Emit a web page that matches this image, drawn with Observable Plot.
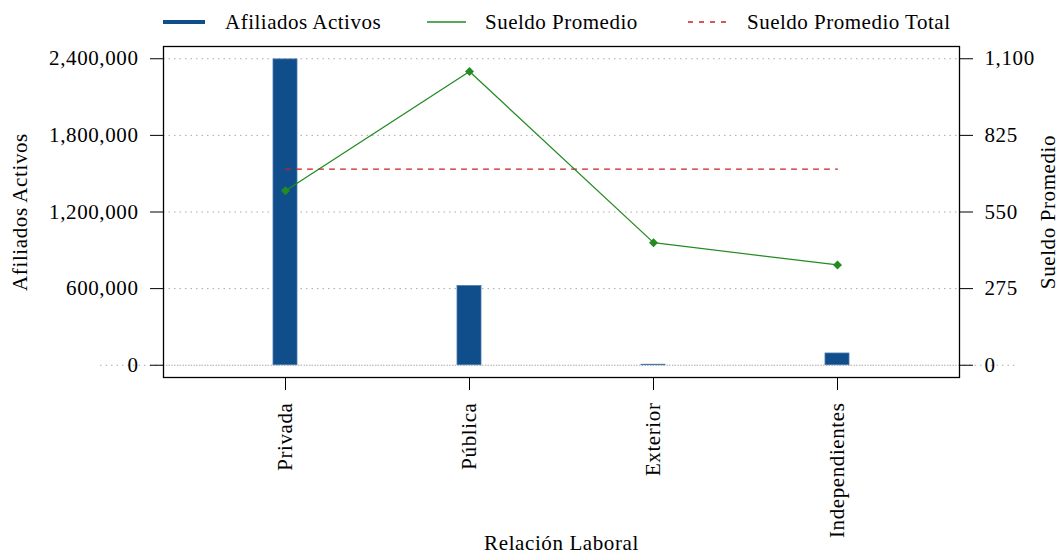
<!DOCTYPE html>
<html>
<head>
<meta charset="utf-8">
<script src="https://cdn.jsdelivr.net/npm/d3@7"></script>
<script src="https://cdn.jsdelivr.net/npm/@observablehq/plot@0.6"></script>
<style>
  body { margin: 0; background: white; font-family: "Liberation Serif", serif; }
  #legend { position: relative; width: 1061px; height: 40px; font-size: 21px; letter-spacing: 0.5px; color: #000; }
  #legend svg.sw { position: absolute; top: 17px; }
  #legend .tx { position: absolute; top: 9px; line-height: 26px; white-space: nowrap; font-family: "Liberation Serif", serif; }
</style>
</head>
<body>
<div id="legend"></div>
<div id="chart"></div>
<script>
// Data
const categorias = ["Privada", "Pública", "Exterior", "Independientes"];
const afiliados = [2395000, 620000, 4000, 92000];
const sueldo = [626, 1054, 440, 360];
const sueldoTotal = 704;
const ticksIzq = [0, 600000, 1200000, 1800000, 2400000];
const ticksDer = [0, 275, 550, 825, 1100];
const seriesNombres = ["Afiliados Activos", "Sueldo Promedio", "Sueldo Promedio Total"];

const colBar = "#104E8B", colLine = "#228B22", colTot = "#cc1f1f";
const k = ticksIzq[ticksIzq.length - 1] / ticksDer[ticksDer.length - 1];

const tabla = categorias.map((c, i) => ({cat: c, afil: afiliados[i], sueldo: sueldo[i], sueldoEsc: sueldo[i] * k, total: sueldoTotal * k}));
const fmt = d3.format(",");

// Legend
const legend = document.getElementById("legend");
const legItems = [
  {x: 163, w: 42, tx: 225, color: colBar, sw: 4, dash: null},
  {x: 427, w: 39, tx: 485, color: colLine, sw: 1.3, dash: null},
  {x: 688, w: 39, tx: 747, color: colTot, sw: 1.3, dash: "5,6"}
];
legItems.forEach((it, i) => {
  const s = d3.create("svg").attr("class", "sw").attr("width", it.w).attr("height", 10)
    .style("left", it.x + "px");
  s.append("line").attr("x1", 0).attr("x2", it.w).attr("y1", 5).attr("y2", 5)
    .attr("stroke", it.color).attr("stroke-width", it.sw)
    .attr("stroke-linecap", it.sw > 2 ? "round" : "butt")
    .attr("stroke-dasharray", it.dash);
  legend.appendChild(s.node());
  const t = document.createElement("div");
  t.className = "tx"; t.style.left = it.tx + "px"; t.textContent = seriesNombres[i];
  legend.appendChild(t);
});

const chart = Plot.plot({
  width: 1061,
  height: 516,
  marginTop: 6,
  marginBottom: 179,
  marginLeft: 163,
  marginRight: 102,
  style: {fontFamily: "Liberation Serif", fontSize: "21px", letterSpacing: "0.6px", background: "white", color: "#000", overflow: "visible"},
  x: {type: "band", domain: categorias, paddingInner: 0.87, paddingOuter: 0.598},
  y: {domain: [-96000, 2496000]},
  marks: [
    Plot.gridY(ticksIzq, {stroke: "#aaa", strokeOpacity: 1, strokeDasharray: "1.5,4"}),
    Plot.ruleY([0], {stroke: "#aaa", strokeDasharray: "1.5,4", insetLeft: -63, insetRight: -56}),
    Plot.barY(tabla, {x: "cat", y: "afil", fill: colBar, stroke: "#4a78aa", strokeWidth: 0.8}),
    Plot.line(tabla, {x: "cat", y: "total", stroke: colTot, strokeWidth: 1.3, strokeDasharray: "5,6"}),
    Plot.line(tabla, {x: "cat", y: "sueldoEsc", stroke: colLine, strokeWidth: 1.3}),
    Plot.dot(tabla, {x: "cat", y: "sueldoEsc", symbol: "square", rotate: 45, fill: colLine, r: 3.6}),
    Plot.frame({stroke: "#000", strokeWidth: 1.3}),
    Plot.axisY(ticksIzq, {anchor: "left", tickSize: 13, tickPadding: 12, tickFormat: fmt,
      label: "Afiliados Activos", labelAnchor: "center", labelOffset: 151, labelArrow: false}),
    Plot.axisY(ticksIzq, {anchor: "right", tickSize: 13, tickPadding: 12, tickFormat: (d, i) => fmt(ticksDer[i]),
      label: "Sueldo Promedio", labelAnchor: "center", labelOffset: 95, labelArrow: false}),
    Plot.axisX({anchor: "bottom", tickSize: 13, tickPadding: 12, tickRotate: -90,
      label: "Relación Laboral", labelAnchor: "center", labelOffset: 172, labelArrow: false})
  ]
});
document.getElementById("chart").appendChild(chart);
</script>
</body>
</html>
